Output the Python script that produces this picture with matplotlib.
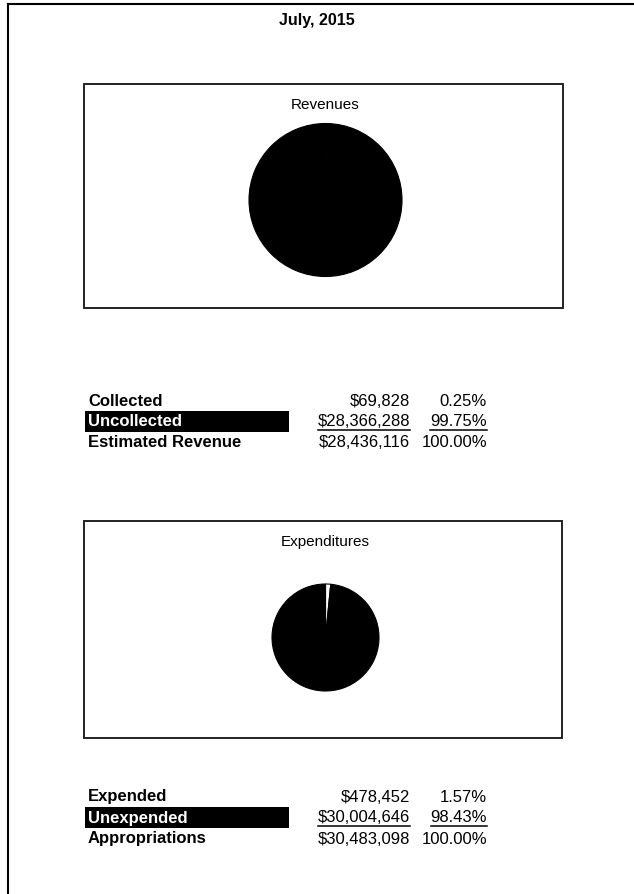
import matplotlib
matplotlib.use("Agg")
import matplotlib.pyplot as plt
from matplotlib.patches import Rectangle
from matplotlib.lines import Line2D

plt.rcParams['font.family'] = ['Liberation Sans', 'DejaVu Sans']

W, H = 634, 894
title = "July, 2015"

rev_title = "Revenues"
rev_labels = ["Collected", "Uncollected", "Estimated Revenue"]
rev_values = [69828, 28366288]
rev_amounts = ["$69,828", "$28,366,288", "$28,436,116"]
rev_pcts = ["0.25%", "99.75%", "100.00%"]

exp_title = "Expenditures"
exp_labels = ["Expended", "Unexpended", "Appropriations"]
exp_values = [478452, 30004646]
exp_amounts = ["$478,452", "$30,004,646", "$30,483,098"]
exp_pcts = ["1.57%", "98.43%", "100.00%"]

slice_colors = ["white", "black"]

fig = plt.figure(figsize=(W / 100, H / 100), dpi=100)


def fx(x):
    return x / W


def fy(y):
    return 1 - y / H


# outer border (left and top visible)
fig.add_artist(Line2D([fx(8), fx(8)], [fy(4), fy(H + 5)], color="black", lw=1.5,
                      transform=fig.transFigure))
fig.add_artist(Line2D([fx(8), fx(W + 5)], [fy(4), fy(4)], color="black", lw=1.5,
                      transform=fig.transFigure))

fig.text(fx(317), fy(20), title, ha="center", va="center", fontsize=11.5, fontweight="bold")


def box(x0, y0, x1, y1):
    fig.add_artist(Rectangle((fx(x0), fy(y1)), fx(x1) - fx(x0), fy(y0) - fy(y1),
                             fill=False, edgecolor="#222222", lw=1.4,
                             transform=fig.transFigure))


def pie(cx, cy, r, values, ttl, ty):
    ax = fig.add_axes([fx(cx - r), fy(cy + r), 2 * r / W, 2 * r / H])
    ax.pie(values, colors=slice_colors, startangle=90, counterclock=False,
           wedgeprops=dict(linewidth=0.8, edgecolor="black"))
    ax.set_xlim(-1, 1)
    ax.set_ylim(-1, 1)
    ax.set_aspect("auto")
    ax.axis("off")
    fig.text(fx(cx), fy(ty), ttl, ha="center", va="center", fontsize=11)


def table(y0, labels, amounts, pcts):
    step = 21
    # black highlight bar behind second label
    fig.add_artist(Rectangle((fx(85), fy(y0 + step + 10)), fx(289) - fx(85), 21 / H,
                             facecolor="black", edgecolor="none",
                             transform=fig.transFigure))
    fig.canvas.draw()
    r = fig.canvas.get_renderer()
    for i in range(3):
        y = y0 + i * step
        col = "white" if i == 1 else "black"
        fig.text(fx(88), fy(y), labels[i], ha="left", va="center", fontsize=12,
                 fontweight="bold", color=col)
        t1 = fig.text(fx(410), fy(y), amounts[i], ha="right", va="center", fontsize=12)
        t2 = fig.text(fx(487), fy(y), pcts[i], ha="right", va="center", fontsize=12)
        if i == 1:
            for t in (t1, t2):
                bb = t.get_window_extent(renderer=r)
                uy = fy(y + 8)
                fig.add_artist(Line2D([bb.x0 / W, bb.x1 / W], [uy, uy], color="black",
                                      lw=1.1, transform=fig.transFigure))


box(84, 84, 563, 308)
pie(325.5, 200, 76.5, rev_values, rev_title, 105)
table(401, rev_labels, rev_amounts, rev_pcts)

box(84, 521, 562, 738)
pie(325.5, 637.5, 53.5, exp_values, exp_title, 542)
table(797, exp_labels, exp_amounts, exp_pcts)

fig.savefig("out.png", dpi=100)
